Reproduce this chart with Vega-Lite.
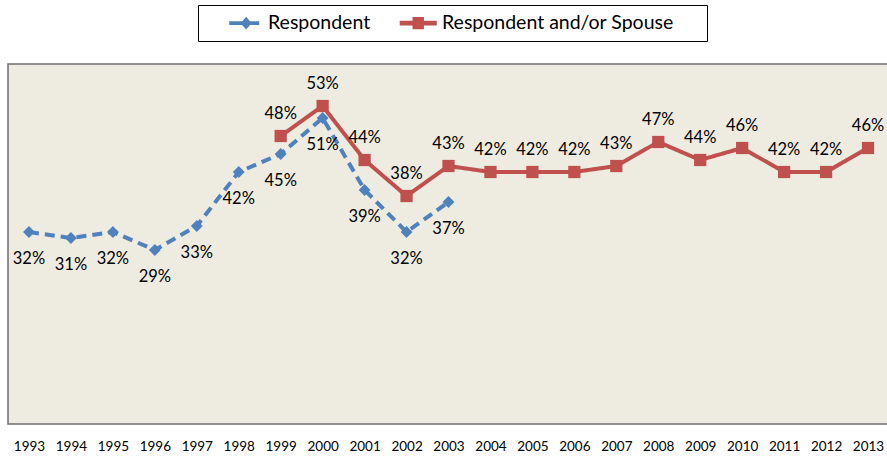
{
  "$schema": "https://vega.github.io/schema/vega-lite/v6.json",
  "autosize": "none",
  "width": 881,
  "height": 360,
  "padding": {"left": 8, "top": 64, "right": 0, "bottom": 33},
  "background": "white",
  "config": {
    "view": {"fill": "#EEEBE1", "stroke": "#6F6F6F", "strokeWidth": 1.5},
    "font": "Lato"
  },
  "data": {
    "values": [
      {"year": "1993", "series": "Respondent", "value": 0.32},
      {"year": "1994", "series": "Respondent", "value": 0.31},
      {"year": "1995", "series": "Respondent", "value": 0.32},
      {"year": "1996", "series": "Respondent", "value": 0.29},
      {"year": "1997", "series": "Respondent", "value": 0.33},
      {"year": "1998", "series": "Respondent", "value": 0.42},
      {"year": "1999", "series": "Respondent", "value": 0.45},
      {"year": "2000", "series": "Respondent", "value": 0.51},
      {"year": "2001", "series": "Respondent", "value": 0.39},
      {"year": "2002", "series": "Respondent", "value": 0.32},
      {"year": "2003", "series": "Respondent", "value": 0.37},
      {"year": "1999", "series": "Respondent and/or Spouse", "value": 0.48},
      {"year": "2000", "series": "Respondent and/or Spouse", "value": 0.53},
      {"year": "2001", "series": "Respondent and/or Spouse", "value": 0.44},
      {"year": "2002", "series": "Respondent and/or Spouse", "value": 0.38},
      {"year": "2003", "series": "Respondent and/or Spouse", "value": 0.43},
      {"year": "2004", "series": "Respondent and/or Spouse", "value": 0.42},
      {"year": "2005", "series": "Respondent and/or Spouse", "value": 0.42},
      {"year": "2006", "series": "Respondent and/or Spouse", "value": 0.42},
      {"year": "2007", "series": "Respondent and/or Spouse", "value": 0.43},
      {"year": "2008", "series": "Respondent and/or Spouse", "value": 0.47},
      {"year": "2009", "series": "Respondent and/or Spouse", "value": 0.44},
      {"year": "2010", "series": "Respondent and/or Spouse", "value": 0.46},
      {"year": "2011", "series": "Respondent and/or Spouse", "value": 0.42},
      {"year": "2012", "series": "Respondent and/or Spouse", "value": 0.42},
      {"year": "2013", "series": "Respondent and/or Spouse", "value": 0.46}
    ]
  },
  "encoding": {
    "x": {
      "field": "year", "type": "ordinal",
      "scale": {"type": "point", "padding": 0.5},
      "axis": {
        "title": null, "labelAngle": 0, "ticks": false, "domain": false,
        "labelFontSize": 13.5, "labelColor": "#000", "labelPadding": 15, "grid": false
      }
    },
    "y": {
      "field": "value", "type": "quantitative",
      "scale": {"domain": [0, 0.6], "nice": false},
      "axis": null
    }
  },
  "layer": [
    {
      "mark": {"type": "line", "strokeWidth": 4},
      "encoding": {
        "color": {
          "field": "series", "type": "nominal",
          "scale": {"domain": ["Respondent", "Respondent and/or Spouse"], "range": ["#4F81BD", "#C0504D"]},
          "legend": {
            "title": null,
            "orient": "none",
            "legendX": 190,
            "legendY": -59,
            "direction": "horizontal",
            "strokeColor": "#000",
            "fillColor": "white",
            "padding": 8,
            "symbolSize": 361,
            "symbolOffset": 28.5,
            "labelOffset": 14,
            "columnPadding": 9,
            "labelFontSize": 19.5,
            "labelLimit": 600,
            "labelColor": "#000",
            "labelExpr": "datum.label == 'Respondent' ? datum.label : datum.label + '\u00a0\u00a0\u2800'",
            "encode": {
              "symbols": {
                "update": {
                  "shape": {"signal": "datum.value === 'Respondent' ? 'M-1.58,-0.2H1.58V0.2H-1.58Z M0.2,-0.66L0.78,0L0.2,0.66L-0.38,0Z' : 'M-1.95,-0.25H1.95V0.25H-1.95Z M-0.6,-0.65H0.6V0.65H-0.6Z'"},
                  "fill": {"signal": "datum.value === 'Respondent' ? '#4F81BD' : '#C0504D'"},
                  "fillOpacity": {"value": 1},
                  "opacity": {"value": 1},
                  "strokeWidth": {"value": 0},
                  "size": {"value": 361}
                }
              }
            }
          }
        },
        "strokeDash": {
          "field": "series", "type": "nominal",
          "scale": {"domain": ["Respondent", "Respondent and/or Spouse"], "range": [[10, 6], [1, 0]]},
          "legend": null
        }
      }
    },
    {
      "transform": [{"filter": "datum.series === 'Respondent'"}],
      "mark": {"type": "point", "filled": true, "opacity": 1, "shape": "diamond", "size": 140, "color": "#4F81BD"}
    },
    {
      "transform": [{"filter": "datum.series === 'Respondent and/or Spouse'"}],
      "mark": {"type": "point", "filled": true, "opacity": 1, "shape": "square", "size": 150, "color": "#C0504D"}
    },
    {
      "transform": [{"filter": "datum.series === 'Respondent'"}],
      "mark": {"type": "text", "dy": 27, "fontSize": 16.5, "color": "#000"},
      "encoding": {"text": {"field": "value", "type": "quantitative", "format": ".0%"}}
    },
    {
      "transform": [{"filter": "datum.series === 'Respondent and/or Spouse'"}],
      "mark": {"type": "text", "dy": -22, "fontSize": 16.5, "color": "#000"},
      "encoding": {"text": {"field": "value", "type": "quantitative", "format": ".0%"}}
    }
  ]
}
